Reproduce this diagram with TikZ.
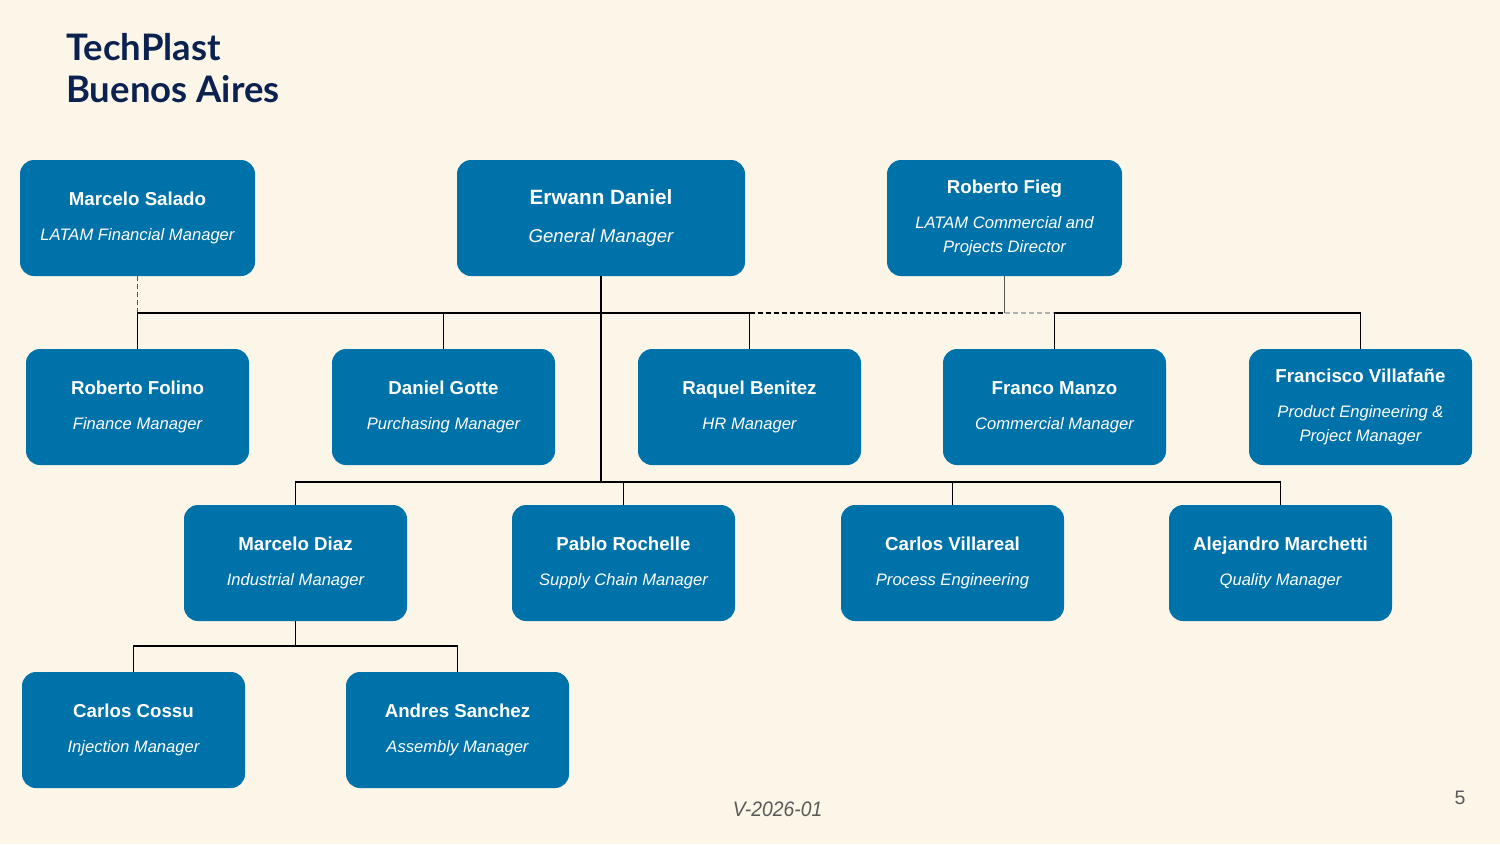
\documentclass[tikz,border=0pt]{standalone}
\usepackage{fontspec}
\setmainfont{Liberation Sans}
\newfontfamily\titlefont{Lato}
\definecolor{bg}{HTML}{FCF6E9}
\definecolor{boxblue}{HTML}{0072AA}
\definecolor{navy}{HTML}{0B2150}
\definecolor{vgrey}{HTML}{555555}
\tikzset{
  orgbox/.style={fill=boxblue, rounded corners=14pt, minimum width=223pt, minimum height=116pt, inner sep=0pt, align=center, text=white, font=\fontsize{16.6}{24}\selectfont},
  topbox/.style={orgbox, minimum width=235pt},
  link/.style={draw=black, line width=1.6pt},
  sublink/.style={draw=black, line width=1.3pt},
  titletext/.style={anchor=base west, inner sep=0pt, text=navy, font=\titlefont\bfseries\fontsize{36.5}{40}\selectfont},
}
\newcommand{\nm}[1]{{\bfseries\fontsize{18.7}{24}\selectfont #1}}
\newcommand{\rl}[1]{{\itshape\fontsize{16.6}{24}\selectfont #1}}
\begin{document}
\begin{tikzpicture}[x=1pt,y=-1pt]
\path[fill=bg] (0,0) rectangle (1500,844);
% title
\node[titletext] (t1) at (66,60) {TechPlast};
\node[titletext] (t2) at (66,102) {Buenos Aires};
% top row
\node[topbox] (salado) at (137.5,218) {\nm{Marcelo Salado}\\[11pt]\rl{LATAM Financial Manager}};
\node[orgbox, minimum width=288pt] (erwann) at (601,218) {{\bfseries\fontsize{20.7}{24}\selectfont Erwann Daniel}\\[14pt]{\itshape\fontsize{18.6}{24}\selectfont General Manager}};
\node[topbox] (fieg) at (1004.5,218) {\nm{Roberto Fieg}\\[11pt]\rl{LATAM Commercial and}\\\rl{Projects Director}};
% second row
\node[orgbox] (folino) at (137.5,407) {\nm{Roberto Folino}\\[11pt]\rl{Finance Manager}};
\node[orgbox] (gotte) at (443.5,407) {\nm{Daniel Gotte}\\[11pt]\rl{Purchasing Manager}};
\node[orgbox] (raquel) at (749.5,407) {\nm{Raquel Benitez}\\[11pt]\rl{HR Manager}};
\node[orgbox] (manzo) at (1054.5,407) {\nm{Franco Manzo}\\[11pt]\rl{Commercial Manager}};
\node[orgbox] (villa) at (1360.5,407) {\nm{Francisco Villafañe}\\[11pt]\rl{Product Engineering \&}\\\rl{Project Manager}};
% third row
\node[orgbox] (diaz) at (295.5,563) {\nm{Marcelo Diaz}\\[11pt]\rl{Industrial Manager}};
\node[orgbox] (rochelle) at (623.5,563) {\nm{Pablo Rochelle}\\[11pt]\rl{Supply Chain Manager}};
\node[orgbox] (villareal) at (952.5,563) {\nm{Carlos Villareal}\\[11pt]\rl{Process Engineering}};
\node[orgbox] (marchetti) at (1280.5,563) {\nm{Alejandro Marchetti}\\[11pt]\rl{Quality Manager}};
% fourth row
\node[orgbox] (cossu) at (133.5,730) {\nm{Carlos Cossu}\\[11pt]\rl{Injection Manager}};
\node[orgbox] (sanchez) at (457.5,730) {\nm{Andres Sanchez}\\[11pt]\rl{Assembly Manager}};
% bus levels
\coordinate (b1) at (0,313);
\coordinate (b2) at (0,482);
\coordinate (b3) at (0,646);
% connectors
\draw[vgrey, line width=1pt, dash pattern=on 5pt off 3pt] (salado.south) -- (salado.south |- b1);
\draw[link] (folino.north) -- (folino.north |- b1) -- (raquel.north |- b1) -- (raquel.north);
\draw[link] (gotte.north) -- (gotte.north |- b1);
\draw[link] (erwann.south) -- (erwann.south |- b2);
\draw[black, line width=1.6pt, dash pattern=on 5pt off 3pt] (raquel.north |- b1) -- (fieg.south |- b1);
\draw[black!30, line width=1.6pt, dash pattern=on 5pt off 3pt] (fieg.south |- b1) -- (manzo.north |- b1);
\draw[vgrey, line width=1.4pt] (fieg.south) -- (fieg.south |- b1);
\draw[link] (manzo.north) -- (manzo.north |- b1) -- (villa.north |- b1) -- (villa.north);
\draw[sublink] (diaz.north) -- (diaz.north |- b2) -- (marchetti.north |- b2) -- (marchetti.north);
\draw[sublink] (rochelle.north) -- (rochelle.north |- b2);
\draw[sublink] (villareal.north) -- (villareal.north |- b2);
\draw[link] (diaz.south) -- (diaz.south |- b3);
\draw[link] (cossu.north) -- (cossu.north |- b3) -- (sanchez.north |- b3) -- (sanchez.north);
% footer
\node[anchor=base, inner sep=0pt, text=black!65, font=\itshape\fontsize{21}{24}\selectfont] (ver) at (777.5,816.5) {\scalebox{0.92}[1]{V-2026-01}};
\node[anchor=base, inner sep=0pt, text=black!65, font=\fontsize{19.5}{22}\selectfont] (page) at (1460,804) {5};
\end{tikzpicture}
\end{document}
